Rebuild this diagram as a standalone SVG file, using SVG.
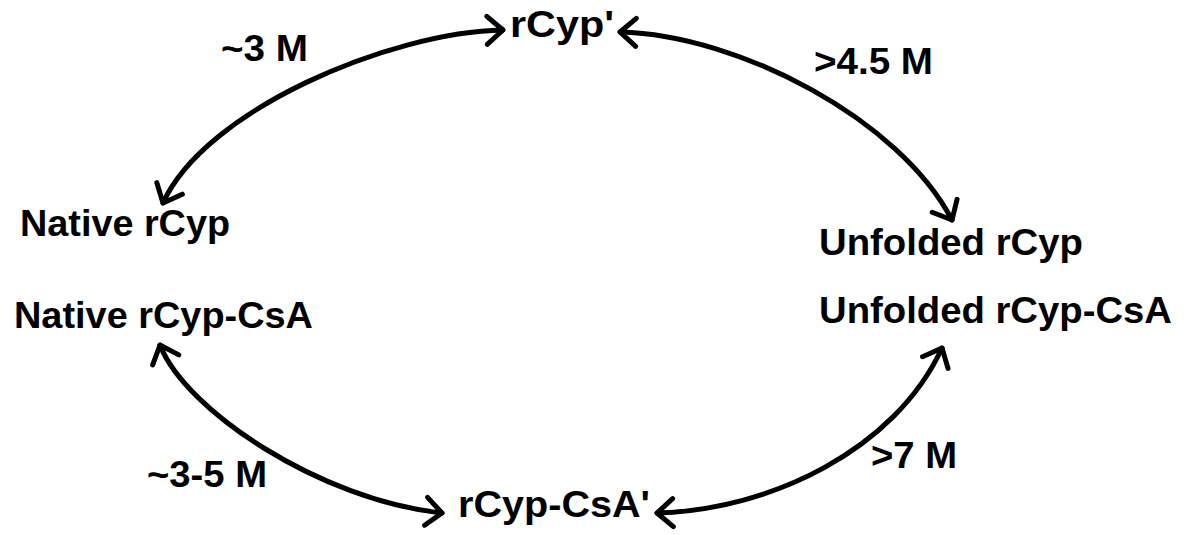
<svg xmlns="http://www.w3.org/2000/svg" width="1193" height="535" viewBox="0 0 1193 535">
  <style>
    .lbl { font-family: "Liberation Sans", Arial, sans-serif; font-weight: bold; font-size: 36px; fill: #000; }
    .arc { fill: none; stroke: #000; stroke-width: 5; stroke-linecap: round; marker-start: url(#head); marker-end: url(#head); }
  </style>
  <defs>
    <!-- open V arrowhead, drawn in user units so it keeps the same size on every arc -->
    <marker id="head" markerUnits="userSpaceOnUse" viewBox="-22 -18 26 36" refX="0" refY="0" markerWidth="26" markerHeight="36" orient="auto-start-reverse" overflow="visible">
      <path d="M-16,-14 L0,0 L-16,14" fill="none" stroke="#000" stroke-width="5" stroke-linecap="round" stroke-linejoin="round"/>
    </marker>
  </defs>
  <rect width="1193" height="535" fill="#fff"/>

  <g id="connectors">
    <path class="arc" d="M503,30 C390,32 205,110 163,203"/>
    <path class="arc" d="M620,32 C740,35 900,120 952,220"/>
    <path class="arc" d="M160,345 C185,410 320,500 442,513"/>
    <path class="arc" d="M657,513 C770,510 895,450 942,348"/>
  </g>

  <g id="rcyp-prime"><text class="lbl" x="510" y="37" textLength="104" lengthAdjust="spacingAndGlyphs">rCyp'</text></g>
  <g id="native-rcyp"><text class="lbl" x="20" y="236" textLength="210" lengthAdjust="spacingAndGlyphs">Native rCyp</text></g>
  <g id="native-rcyp-csa"><text class="lbl" x="14" y="328" textLength="299" lengthAdjust="spacingAndGlyphs">Native rCyp-CsA</text></g>
  <g id="unfolded-rcyp"><text class="lbl" x="819" y="255" textLength="264" lengthAdjust="spacingAndGlyphs">Unfolded rCyp</text></g>
  <g id="unfolded-rcyp-csa"><text class="lbl" x="819" y="323" textLength="353" lengthAdjust="spacingAndGlyphs">Unfolded rCyp-CsA</text></g>
  <g id="rcyp-csa-prime"><text class="lbl" x="458" y="517" textLength="192" lengthAdjust="spacingAndGlyphs">rCyp-CsA'</text></g>

  <g id="edge-labels">
    <text class="lbl" x="221" y="61" textLength="87" lengthAdjust="spacingAndGlyphs">~3 M</text>
    <text class="lbl" x="814" y="74" textLength="119" lengthAdjust="spacingAndGlyphs">&gt;4.5 M</text>
    <text class="lbl" x="147" y="487" textLength="120" lengthAdjust="spacingAndGlyphs">~3-5 M</text>
    <text class="lbl" x="871" y="468" textLength="86" lengthAdjust="spacingAndGlyphs">&gt;7 M</text>
  </g>
</svg>
